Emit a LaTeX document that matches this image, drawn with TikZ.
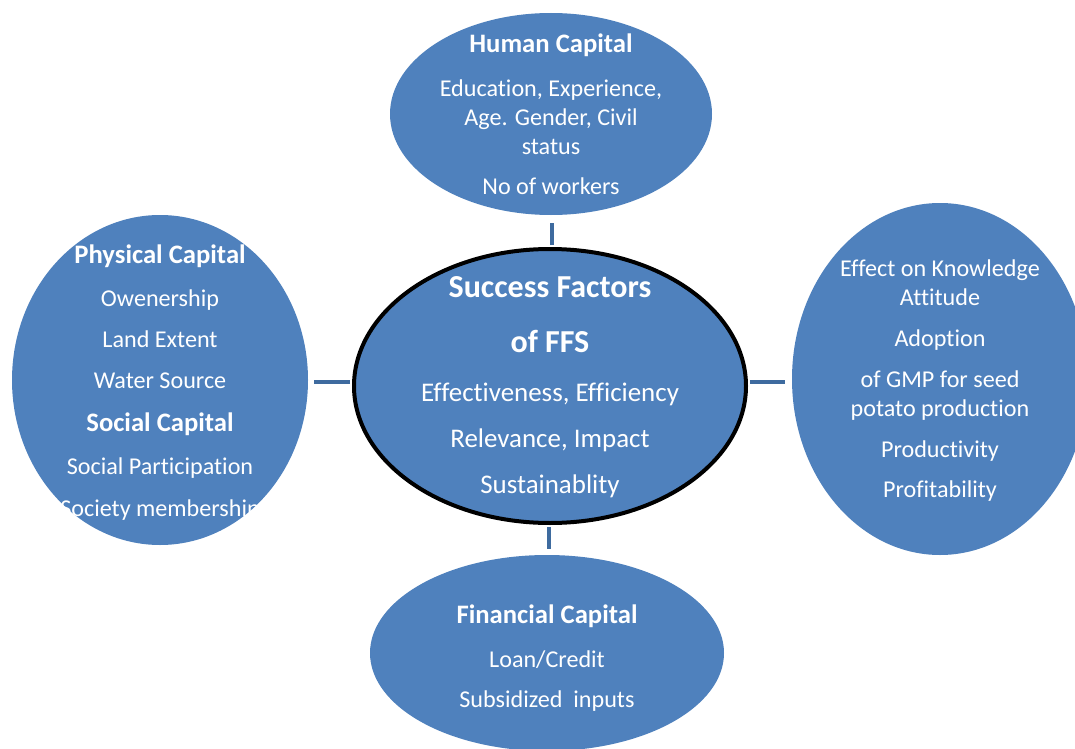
\documentclass[tikz,border=0pt]{standalone}
\usepackage{fontspec}
\setmainfont[Ligatures={NoCommon}]{Carlito}
\usetikzlibrary{shapes.geometric}
\definecolor{ovalblue}{HTML}{4F81BD}
\definecolor{linkblue}{HTML}{3E6B9F}
\tikzset{
  oval/.style={ellipse, fill=ovalblue, draw=none, inner sep=0pt},
  link/.style={draw=linkblue, line width=3.4pt},
  txt/.style={text=white, anchor=base, inner sep=0pt, font=\fontsize{18.1}{22}\selectfont},
  ctxt/.style={txt, font=\fontsize{20.2}{24}\selectfont},
  ttl/.style={txt, font=\fontsize{20}{24}\selectfont\bfseries},
  bigttl/.style={txt, font=\fontsize{24}{28}\selectfont\bfseries}
}
\begin{document}
\begin{tikzpicture}[x=0.75pt,y=-0.75pt]
\useasboundingbox (0,0) rectangle (1075,749);
\clip (0,0) rectangle (1075,749);
\fill[white] (0,0) rectangle (1075,749);
% ovals
\node[oval, minimum width=241.5pt, minimum height=151.5pt] (hum) at (551,114) {};
\node[oval, minimum width=222pt, minimum height=247.5pt] (phy) at (160,380) {};
\node[oval, minimum width=222pt, minimum height=264pt] (eff) at (940,379) {};
\node[oval, minimum width=265.5pt, minimum height=147pt] (fin) at (547,653) {};
\node[oval, draw=black, line width=3pt, minimum width=294pt, minimum height=205.5pt] (ctr) at (550,386) {};
% connector end points
\coordinate (tN) at ([xshift=1.5pt]ctr.north);
\coordinate (tS) at ([xshift=-0.75pt]ctr.south);
\coordinate (tW) at ([yshift=3pt]ctr.west);
\coordinate (tE) at ([yshift=3pt]ctr.east);
% connectors
\draw[link, shorten <=1.5pt, shorten >=6pt] (tN) -- (tN |- hum.south);
\draw[link, shorten <=1.5pt, shorten >=4.5pt] (tW) -- (tW -| phy.east);
\draw[link, shorten <=1.5pt, shorten >=5pt] (tE) -- (tE -| eff.west);
\draw[link, shorten <=1.5pt, shorten >=4.5pt] (tS) -- (tS |- fin.north);
% human capital
\node[ttl] (h1) at (551,53) {Human Capital};
\node[txt] (h2) at (551,97) {Education, Experience,};
\node[txt] (h3) at (551,126) {Age. Gender, Civil};
\node[txt] (h4) at (551,155) {status};
\node[txt] (h5) at (551,195) {No of workers};
% centre
\node[bigttl] (c1) at (550,297) {Success Factors};
\node[bigttl] (c2) at (550,352) {of FFS};
\node[ctxt] (c3) at (550,401) {Effectiveness, Efficiency};
\node[ctxt] (c4) at (550,447) {Relevance, Impact};
\node[ctxt] (c5) at (550,493) {Sustainablity};
% physical / social
\node[ttl] (p1) at (160,263) {Physical Capital};
\node[txt] (p2) at (160,306) {Owenership};
\node[txt] (p3) at (160,347) {Land Extent};
\node[txt] (p4) at (160,388) {Water Source};
\node[ttl] (p5) at (160,431) {Social Capital};
\node[txt] (p6) at (160,474) {Social Participation};
\node[txt] (p7) at (160,516) {Society membership};
% effects
\node[txt] (r1) at (940,276) {Effect on Knowledge};
\node[txt] (r2) at (940,305) {Attitude};
\node[txt] (r3) at (940,346) {Adoption};
\node[txt] (r4) at (940,387) {of GMP for seed};
\node[txt] (r5) at (940,416) {potato production};
\node[txt] (r6) at (940,457) {Productivity};
\node[txt] (r7) at (940,497) {Profitability};
% financial
\node[ttl] (f1) at (547,623) {Financial Capital};
\node[txt] (f2) at (547,667) {Loan/Credit};
\node[txt] (f3) at (547,707) {Subsidized\ \ inputs};
\end{tikzpicture}
\end{document}
